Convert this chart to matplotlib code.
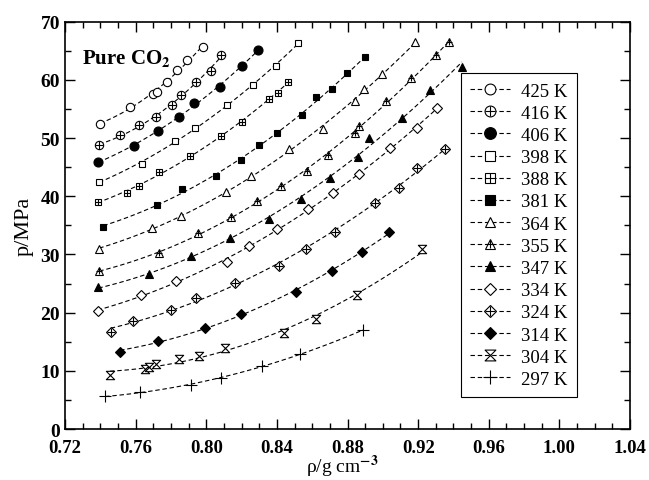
import numpy as np
import matplotlib.pyplot as plt
from matplotlib.lines import Line2D
from matplotlib.path import Path
from matplotlib.ticker import MultipleLocator, FormatStrFormatter

plt.rcParams['font.family'] = 'Liberation Serif'
plt.rcParams['font.weight'] = 'bold'
plt.rcParams['mathtext.fontset'] = 'stix'
plt.rcParams['mathtext.default'] = 'bf'

rho_425 = [0.7398, 0.7568, 0.7700, 0.7720, 0.7780, 0.7836, 0.7890, 0.7984]
p_425 = [52.5, 55.4, 57.6, 58.0, 59.7, 61.7, 63.5, 65.7]

rho_416 = [0.7394, 0.7512, 0.7620, 0.7714, 0.7805, 0.7855, 0.7942, 0.8026, 0.8084]
p_416 = [48.8, 50.5, 52.2, 53.7, 55.6, 57.4, 59.6, 61.6, 64.3]

rho_406 = [0.7389, 0.7593, 0.7727, 0.7844, 0.7933, 0.8077, 0.8205, 0.8293]
p_406 = [45.9, 48.7, 51.3, 53.6, 56.0, 58.8, 62.4, 65.2]

rho_398 = [0.7393, 0.7636, 0.7823, 0.7937, 0.8116, 0.8263, 0.8394, 0.8518]
p_398 = [42.5, 45.6, 49.5, 51.8, 55.6, 59.1, 62.4, 66.3]

rho_388 = [0.7385, 0.7550, 0.7620, 0.7734, 0.7908, 0.8084, 0.8200, 0.8356, 0.8405, 0.8462]
p_388 = [39.1, 40.5, 41.8, 44.2, 46.9, 50.3, 52.8, 56.8, 57.7, 59.7]

rho_381 = [0.7417, 0.7723, 0.7863, 0.8054, 0.8195, 0.8301, 0.8401, 0.8544, 0.8624, 0.8711, 0.8796, 0.8898]
p_381 = [34.8, 38.5, 41.2, 43.4, 46.2, 48.8, 50.8, 54.0, 57.0, 58.4, 61.1, 63.9]

rho_364 = [0.7394, 0.7693, 0.7859, 0.8110, 0.8256, 0.8469, 0.8660, 0.8843, 0.8896, 0.8994, 0.9183]
p_364 = [30.9, 34.6, 36.6, 40.7, 43.5, 48.1, 51.5, 56.4, 58.4, 61.0, 66.5]

rho_355 = [0.7394, 0.7733, 0.7952, 0.8142, 0.8286, 0.8424, 0.8573, 0.8692, 0.8843, 0.8867, 0.9019, 0.9160, 0.9300, 0.9377]
p_355 = [27.1, 30.2, 33.7, 36.4, 39.2, 41.7, 44.3, 47.1, 50.8, 52.0, 56.4, 60.4, 64.2, 66.5]

rho_347 = [0.7389, 0.7676, 0.7916, 0.8137, 0.8354, 0.8535, 0.8703, 0.8862, 0.8924, 0.9108, 0.9268, 0.9448]
p_347 = [24.4, 26.6, 29.7, 32.8, 36.1, 39.5, 43.1, 46.8, 50.0, 53.4, 58.3, 62.3]

rho_334 = [0.7385, 0.7631, 0.7829, 0.8116, 0.8244, 0.8399, 0.8578, 0.8720, 0.8867, 0.9041, 0.9193, 0.9306]
p_334 = [20.3, 23.0, 25.5, 28.7, 31.4, 34.4, 37.8, 40.5, 43.9, 48.3, 51.7, 55.2]

rho_324 = [0.7459, 0.7587, 0.7800, 0.7940, 0.8161, 0.8414, 0.8564, 0.8730, 0.8956, 0.9089, 0.9193, 0.9353]
p_324 = [16.7, 18.6, 20.5, 22.5, 25.1, 28.0, 31.0, 33.9, 38.8, 41.5, 44.8, 48.1]

rho_314 = [0.7512, 0.7729, 0.7993, 0.8195, 0.8509, 0.8711, 0.8881, 0.9037]
p_314 = [13.3, 15.1, 17.4, 19.8, 23.6, 27.1, 30.4, 33.9]

rho_304 = [0.7455, 0.7653, 0.7678, 0.7716, 0.7848, 0.7959, 0.8106, 0.8441, 0.8622, 0.8853, 0.9224]
p_304 = [9.2, 10.3, 10.7, 11.2, 12.0, 12.6, 13.9, 16.5, 18.9, 23.0, 30.9]

rho_297 = [0.7427, 0.7625, 0.7912, 0.8082, 0.8314, 0.8531, 0.8890]
p_297 = [5.6, 6.3, 7.6, 8.8, 10.8, 12.9, 17.0]

labels = ['425 K', '416 K', '406 K', '398 K', '388 K', '381 K', '364 K',
          '355 K', '347 K', '334 K', '324 K', '314 K', '304 K', '297 K']

# hourglass marker for 304 K
hourglass = Path([(-1, 1), (1, 1), (-1, -1), (1, -1), (-1, 1)],
                 [Path.MOVETO, Path.LINETO, Path.LINETO, Path.LINETO, Path.CLOSEPOLY])

# each entry: list of (marker, facecolor, size) drawn on top of each other
marks = [
    [('o', 'white', 6)],
    [('o', 'white', 6), ('+', 'black', 6)],
    [('o', 'black', 6.5)],
    [('s', 'white', 5)],
    [('s', 'white', 5), ('+', 'black', 5)],
    [('s', 'black', 5)],
    [('^', 'white', 6)],
    [('^', 'white', 6), ('+', 'black', 4)],
    [('^', 'black', 6)],
    [('D', 'white', 5)],
    [('D', 'white', 5), ('+', 'black', 6)],
    [('D', 'black', 5)],
    [(hourglass, 'white', 6)],
    [('+', 'black', 8)],
]

rhos = [rho_425, rho_416, rho_406, rho_398, rho_388, rho_381, rho_364,
        rho_355, rho_347, rho_334, rho_324, rho_314, rho_304, rho_297]
ps = [p_425, p_416, p_406, p_398, p_388, p_381, p_364,
      p_355, p_347, p_334, p_324, p_314, p_304, p_297]

dash = (0, (4, 2.5))

fig = plt.figure(figsize=(6.49, 4.81), dpi=100)
ax = fig.add_axes([0.1002, 0.106, 0.8705, 0.8468])

handles = []
for rho, p, mk in zip(rhos, ps, marks):
    rho = np.array(rho)
    p = np.array(p)
    # smooth dashed curve through each isotherm
    coef = np.polyfit(rho, p, 2)
    xs = np.linspace(rho.min(), rho.max(), 100)
    ax.plot(xs, np.polyval(coef, xs), color='black', lw=0.8, ls=dash)
    h = [Line2D([], [], color='black', lw=0.8, ls=dash)]
    for m, fc, ms in mk:
        ax.plot(rho, p, ls='none', marker=m, mfc=fc, mec='black', ms=ms, mew=0.8)
        h.append(Line2D([], [], ls='none', marker=m, mfc=fc, mec='black', ms=ms, mew=0.8))
    handles.append(tuple(h))

ax.set_xlim(0.72, 1.04)
ax.set_ylim(0, 70)
ax.xaxis.set_major_locator(MultipleLocator(0.04))
ax.xaxis.set_minor_locator(MultipleLocator(0.01))
ax.xaxis.set_major_formatter(FormatStrFormatter('%.2f'))
ax.yaxis.set_major_locator(MultipleLocator(10))
ax.yaxis.set_minor_locator(MultipleLocator(5))
ax.tick_params(which='both', direction='in', top=True, right=True, width=1)
ax.tick_params(which='major', length=7, labelsize=14)
ax.tick_params(which='minor', length=4)
ax.tick_params(axis='x', which='major', pad=7, labelsize=13.5)
for s in ax.spines.values():
    s.set_linewidth(1.2)

ax.set_xlabel('ρ/g cm$^{-3}$', fontsize=14)
ax.xaxis.label.set_va('bottom')
ax.xaxis.set_label_coords(0.49, -0.1215)
ax.set_ylabel('p/MPa', fontsize=16, labelpad=5)
ax.text(0.030, 0.938, 'Pure CO$_2$', transform=ax.transAxes, fontsize=15, va='top')

leg = ax.legend(handles, labels, loc='upper left', bbox_to_anchor=(0.701, 0.874),
                borderaxespad=0, fancybox=False, edgecolor='black', framealpha=1,
                prop={'family': 'Liberation Serif', 'weight': 'normal', 'size': 13.5},
                handlelength=2.1, handletextpad=0.6, labelspacing=0.27,
                borderpad=0.5, markerscale=1.3)
leg.get_frame().set_linewidth(0.8)

fig.savefig('out.png', dpi=100)
